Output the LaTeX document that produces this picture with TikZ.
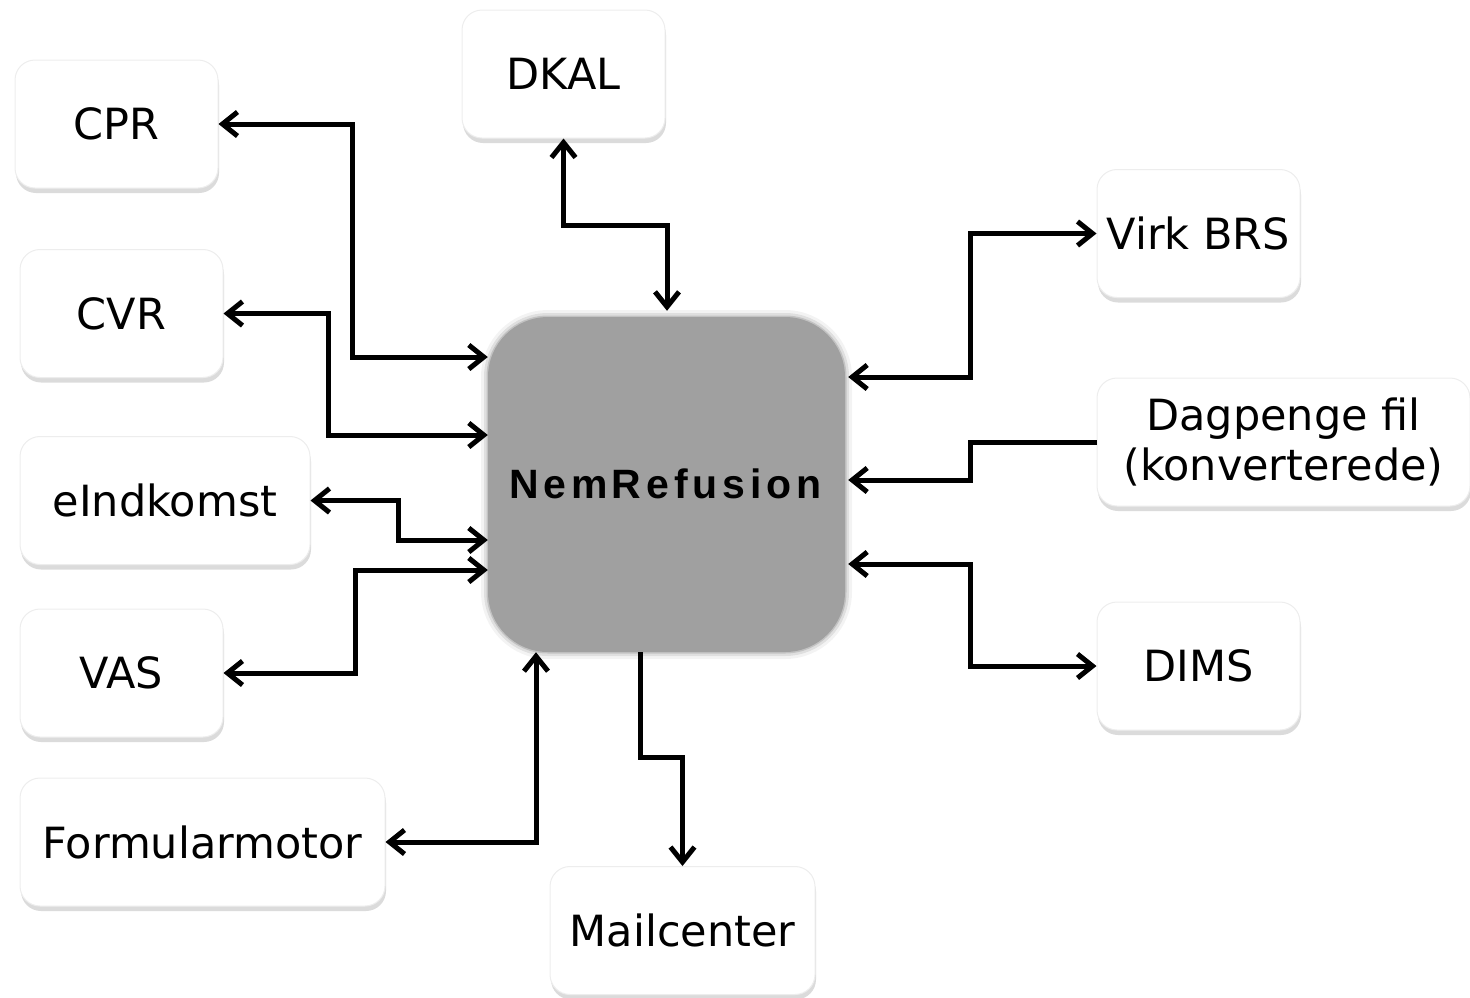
\documentclass[tikz,border=0pt]{standalone}
\usepackage{fontspec}
\setmainfont{DejaVu Sans}
\newfontfamily\nemfont{Liberation Sans}[LetterSpace=12]
\usetikzlibrary{arrows.meta,shadows}
\definecolor{nemgray}{HTML}{A0A0A0}
\definecolor{boxline}{HTML}{EDEDED}
\tikzset{
  sysbox/.style={draw=boxline, line width=1pt, fill=white, rounded corners=20pt,
    minimum height=128pt, inner sep=0pt, align=center,
    font=\fontsize{43}{50}\selectfont,
    drop shadow={shadow xshift=1pt, shadow yshift=-5pt, fill=black, opacity=0.14}},
  conn/.style={line width=5pt, {Straight Barb[length=15pt,width=24pt]}-{Straight Barb[length=15pt,width=24pt]}},
  connone/.style={line width=5pt, -{Straight Barb[length=15pt,width=24pt]}},
  nembox/.style={fill=nemgray, rounded corners=60pt, minimum width=357pt, minimum height=335pt, inner sep=0pt,
    preaction={draw=nemgray, line width=14pt, draw opacity=0.12, rounded corners=60pt},
    preaction={draw=nemgray, line width=8pt, draw opacity=0.25, rounded corners=60pt},
    preaction={draw=nemgray, line width=3pt, draw opacity=0.45, rounded corners=60pt}},
  nemtext/.style={font=\nemfont\bfseries\fontsize{41}{48}\selectfont, inner sep=0pt}
}
\begin{document}
\begin{tikzpicture}[x=1pt,y=-1pt]
\useasboundingbox (0,0) rectangle (1470,997);

% center
\node[nembox] (nem) at (666.5,484.5) {};
\node[nemtext, text=black] (nemtxt) at (665.5,483.5) {Nem\hspace{4pt}Refusion};

% boxes
\node[sysbox, minimum width=203pt] (cpr) at (116.5,124) {CPR};
\node[sysbox, minimum width=203pt] (cvr) at (121.5,313.5) {CVR};
\node[sysbox, minimum width=290pt] (eind) at (165,500.5) {eIndkomst};
\node[sysbox, minimum width=203pt] (vas) at (121.5,673) {VAS};
\node[sysbox, minimum width=365pt] (form) at (202.5,842) {Formularmotor};
\node[sysbox, minimum width=203pt] (dkal) at (563.5,74) {DKAL};
\node[sysbox, minimum width=203pt] (virk) at (1198.5,233.5) {Virk BRS};
\node[sysbox, minimum width=373pt] (dag) at (1283.5,442) {Dagpenge fil\\(konverterede)};
\node[sysbox, minimum width=203pt] (dims) at (1198.5,666) {DIMS};
\node[sysbox, minimum width=265pt] (mail) at (682.5,930.5) {Mailcenter};

% connectors
\draw[conn] (cpr.east) -| (352,357) -- ([yshift=127.5pt]nem.west);
\draw[conn] (cvr.east) -| (328,435) -- ([yshift=49.5pt]nem.west);
\draw[conn] (eind.east) -| (398,540) -- ([yshift=-55.5pt]nem.west);
\draw[conn] (vas.east) -| (355,570) -- ([yshift=-85.5pt]nem.west);
\draw[conn] (form.east) -| ([xshift=-130.5pt]nem.south);
\draw[conn] (dkal.south) |- (667,225) -- ([yshift=6pt,xshift=0.5pt]nem.north);
\draw[connone] ([xshift=-26.5pt]nem.south) |- (682.5,757) -- (mail.north);
\draw[conn] ([yshift=107.5pt,xshift=3pt]nem.east) -| (970,233.5) -- (virk.west);
\draw[connone] (dag.west) -| (970,480) -- ([yshift=4.5pt,xshift=3pt]nem.east);
\draw[conn] ([yshift=-79.5pt,xshift=3pt]nem.east) -| (970,666) -- (dims.west);
\end{tikzpicture}
\end{document}
